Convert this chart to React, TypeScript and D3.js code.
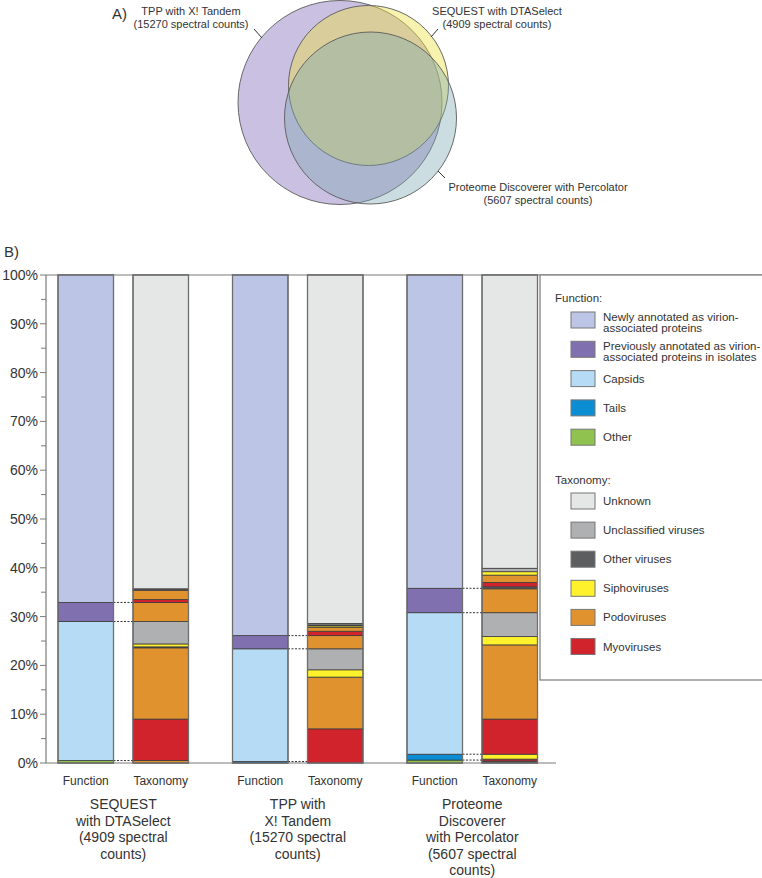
import React from "react";
import * as d3 from "d3";

// ---------- DATA ----------
const vennSets = ["TPP with X! Tandem", "SEQUEST with DTASelect", "Proteome Discoverer with Percolator"];
const vennCounts = [15270, 4909, 5607];

const groups = ["SEQUEST", "TPP", "PD"];
const groupLabels = [
  ["SEQUEST", "with DTASelect", "(4909 spectral", "counts)"],
  ["TPP with", "X! Tandem", "(15270 spectral", "counts)"],
  ["Proteome", "Discoverer", "with Percolator", "(5607 spectral", "counts)"],
];
const barTypes = ["Function", "Taxonomy"];

// function categories, bottom to top
const functionKeys = ["Other", "Tails", "Capsids", "Previously", "Newly"];
const seqFunction = [0.5, 0, 28.5, 3.9, 67.1];
const tppFunction = [0, 0.3, 23.1, 2.7, 73.9];
const pdFunction = [0.6, 1.2, 29.0, 5.0, 64.2];

// taxonomy segments, bottom to top
const seqTaxCats = ["Podo", "Myo", "Podo", "OtherV", "Sipho", "Unclassified", "Podo", "Myo", "Podo", "OtherV", "Unknown"];
const seqTaxVals = [0.5, 8.5, 14.6, 0.2, 0.6, 4.6, 3.9, 0.6, 1.9, 0.3, 64.3];
const tppTaxCats = ["Myo", "Podo", "Sipho", "Unclassified", "Podo", "Myo", "Podo", "Sipho", "OtherV", "Unclassified", "Unknown"];
const tppTaxVals = [7.0, 10.6, 1.5, 4.3, 2.7, 0.9, 0.8, 0.3, 0.2, 0.3, 71.4];
const pdTaxCats = ["OtherV", "Myo", "Sipho", "Myo", "Podo", "Sipho", "Unclassified", "Podo", "OtherV", "Myo", "Podo", "Sipho", "Unclassified", "Unknown"];
const pdTaxVals = [0.4, 0.4, 1.0, 7.2, 15.2, 1.7, 4.9, 4.9, 0.4, 0.9, 1.5, 0.7, 0.7, 60.1];

const yTicks = [0, 10, 20, 30, 40, 50, 60, 70, 80, 90, 100];

const functionLegendKeys = ["Newly", "Previously", "Capsids", "Tails", "Other"];
const functionLegendLabels = [
  ["Newly annotated as virion-", "associated proteins"],
  ["Previously annotated as virion-", "associated proteins in isolates"],
  ["Capsids"],
  ["Tails"],
  ["Other"],
];
const taxLegendKeys = ["Unknown", "Unclassified", "OtherV", "Sipho", "Podo", "Myo"];
const taxLegendLabels = ["Unknown", "Unclassified viruses", "Other viruses", "Siphoviruses", "Podoviruses", "Myoviruses"];

const colors: Record<string, string> = {
  Newly: "#bcc5e5",
  Previously: "#8170b0",
  Capsids: "#b6dcf5",
  Tails: "#0b8dd4",
  Other: "#8fc24f",
  Unknown: "#e5e6e6",
  Unclassified: "#afb0b2",
  OtherV: "#5d5e60",
  Sipho: "#fff22c",
  Podo: "#e0922f",
  Myo: "#d0232b",
};

// ---------- LAYOUT ----------
const W = 762;
const H = 878;
const FONT = "'Liberation Sans', Arial, Helvetica, sans-serif";
const axisX = 46;
const yTop = 275;
const yBottom = 763;

const vennCircles = [
  { cx: 340, cy: 102.5, r: 102, fill: "rgba(150,130,195,0.5)" },
  { cx: 368.5, cy: 85.5, r: 80, fill: "rgba(235,225,60,0.42)" },
  { cx: 370.5, cy: 118, r: 86, fill: "rgba(120,165,175,0.38)" },
];
const vennLabelPos = [
  { x: 191, y: 14.5, lead: [254, 29, 262, 38] },
  { x: 497, y: 14.5, lead: [438, 29, 431, 37] },
  { x: 538, y: 190.5, lead: [438, 171, 445, 178] },
];

export default function App() {
  const y = d3.scaleLinear().domain([0, 100]).range([yBottom, yTop]);
  const xg = d3.scaleBand().domain(groups).range([axisX, axisX + 3 * 174.5]);
  const xi = d3.scaleBand().domain(barTypes).range([12, 142.5]).paddingInner(0.26);
  const bw = xi.bandwidth();

  const funcData = [seqFunction, tppFunction, pdFunction];
  const taxData = [
    { cats: seqTaxCats, vals: seqTaxVals },
    { cats: tppTaxCats, vals: tppTaxVals },
    { cats: pdTaxCats, vals: pdTaxVals },
  ];

  const stackSegs = (cats: string[], vals: number[]) => {
    let acc = 0;
    return vals.map((v, i) => {
      const s = { key: cats[i], y0: acc, y1: acc + v };
      acc += v;
      return s;
    });
  };

  const minorTicks = d3.range(5, 100, 10);

  return (
    <svg
      width={W}
      height={H}
      style={{ position: "absolute", left: 0, top: 0, background: "#fff" }}
      fontFamily={FONT}
    >
      {/* ---------- Venn ---------- */}
      <text x={112} y={19} fontSize={15} fill="#333">A)</text>
      {vennCircles.map((c, i) => (
        <circle key={i} cx={c.cx} cy={c.cy} r={c.r} fill={c.fill} stroke="#5a5a5a" strokeWidth={0.9} />
      ))}
      {vennLabelPos.map((p, i) => (
        <g key={i}>
          <text x={p.x} y={p.y} fontSize={11} fill="#333" textAnchor="middle">{vennSets[i]}</text>
          <text x={p.x} y={p.y + 13.3} fontSize={11} fill="#333" textAnchor="middle">
            ({vennCounts[i]} spectral counts)
          </text>
          <line x1={p.lead[0]} y1={p.lead[1]} x2={p.lead[2]} y2={p.lead[3]} stroke="#333" strokeWidth={1} />
        </g>
      ))}

      {/* ---------- B) chart ---------- */}
      <text x={4} y={257} fontSize={15} fill="#333">B)</text>

      {/* frame lines */}
      <line x1={axisX} x2={W} y1={yTop} y2={yTop} stroke="#7a7a7a" strokeWidth={1.2} />
      <line x1={axisX} x2={556} y1={yBottom} y2={yBottom} stroke="#7a7a7a" strokeWidth={1.2} />
      <line x1={axisX} x2={axisX} y1={yTop} y2={yBottom} stroke="#7a7a7a" strokeWidth={1.2} />

      {yTicks.map((t) => (
        <g key={t}>
          <line x1={axisX - 6} x2={axisX} y1={y(t)} y2={y(t)} stroke="#7a7a7a" strokeWidth={1} />
          <text x={38} y={y(t) + 5} fontSize={14} fill="#333" textAnchor="end">{t}%</text>
        </g>
      ))}
      {minorTicks.map((t) => (
        <line key={t} x1={axisX - 5} x2={axisX} y1={y(t)} y2={y(t)} stroke="#7a7a7a" strokeWidth={1} />
      ))}

      {groups.map((g, gi) => {
        const gx = xg(g) as number;
        const fx = gx + (xi("Function") as number);
        const tx = gx + (xi("Taxonomy") as number);
        const fSegs = stackSegs(functionKeys, funcData[gi]).filter((s) => s.y1 - s.y0 > 0);
        const tSegs = stackSegs(taxData[gi].cats, taxData[gi].vals);
        const bounds = Array.from(new Set(fSegs.map((s) => +s.y1.toFixed(2)))).filter((v) => v > 0.1 && v < 99.9);
        const cx = gx + 12 + 130.5 / 2;
        return (
          <g key={g}>
            {bounds.map((b, bi) => (
              <line key={bi} x1={fx + bw} x2={tx} y1={y(b)} y2={y(b)} stroke="#333" strokeWidth={1} strokeDasharray="2,1.5" />
            ))}
            {fSegs.map((s, si) => (
              <rect key={si} x={fx} width={bw} y={y(s.y1)} height={y(s.y0) - y(s.y1)} fill={colors[s.key]} stroke="#3c3c3c" strokeWidth={0.8} />
            ))}
            {tSegs.map((s, si) => (
              <rect key={si} x={tx} width={bw} y={y(s.y1)} height={y(s.y0) - y(s.y1)} fill={colors[s.key]} stroke="#3c3c3c" strokeWidth={0.8} />
            ))}
            <rect x={fx} width={bw} y={y(100)} height={y(0) - y(100)} fill="none" stroke="#6e6e6e" strokeWidth={1.3} />
            <rect x={tx} width={bw} y={y(100)} height={y(0) - y(100)} fill="none" stroke="#6e6e6e" strokeWidth={1.3} />
            {barTypes.map((bt) => (
              <text key={bt} x={gx + (xi(bt) as number) + bw / 2} y={785} fontSize={12} fill="#333" textAnchor="middle">{bt}</text>
            ))}
            {groupLabels[gi].map((l, li) => (
              <text key={li} x={cx} y={809 + li * 16.5} fontSize={14} fill="#333" textAnchor="middle">{l}</text>
            ))}
          </g>
        );
      })}

      {/* ---------- Legend ---------- */}
      <rect x={540} y={yTop} width={240} height={405} fill="#fff" stroke="#7a7a7a" strokeWidth={1.2} />
      <text x={555} y={302} fontSize={11.5} fill="#333">Function:</text>
      {functionLegendKeys.map((k, i) => {
        const sy = 312 + i * 29.3;
        const lines = functionLegendLabels[i];
        return (
          <g key={k}>
            <rect x={571} y={sy} width={24} height={16} fill={colors[k]} stroke="#777" strokeWidth={1} />
            {lines.map((l, li) => (
              <text key={li} x={603} y={lines.length === 1 ? sy + 12 : sy + 9 + li * 11} fontSize={11.5} fill="#333">{l}</text>
            ))}
          </g>
        );
      })}
      <text x={555} y={484} fontSize={11.5} fill="#333">Taxonomy:</text>
      {taxLegendKeys.map((k, i) => {
        const sy = 493 + i * 29.1;
        return (
          <g key={k}>
            <rect x={571} y={sy} width={24} height={16} fill={colors[k]} stroke="#777" strokeWidth={1} />
            <text x={603} y={sy + 12} fontSize={11.5} fill="#333">{taxLegendLabels[i]}</text>
          </g>
        );
      })}
    </svg>
  );
}
